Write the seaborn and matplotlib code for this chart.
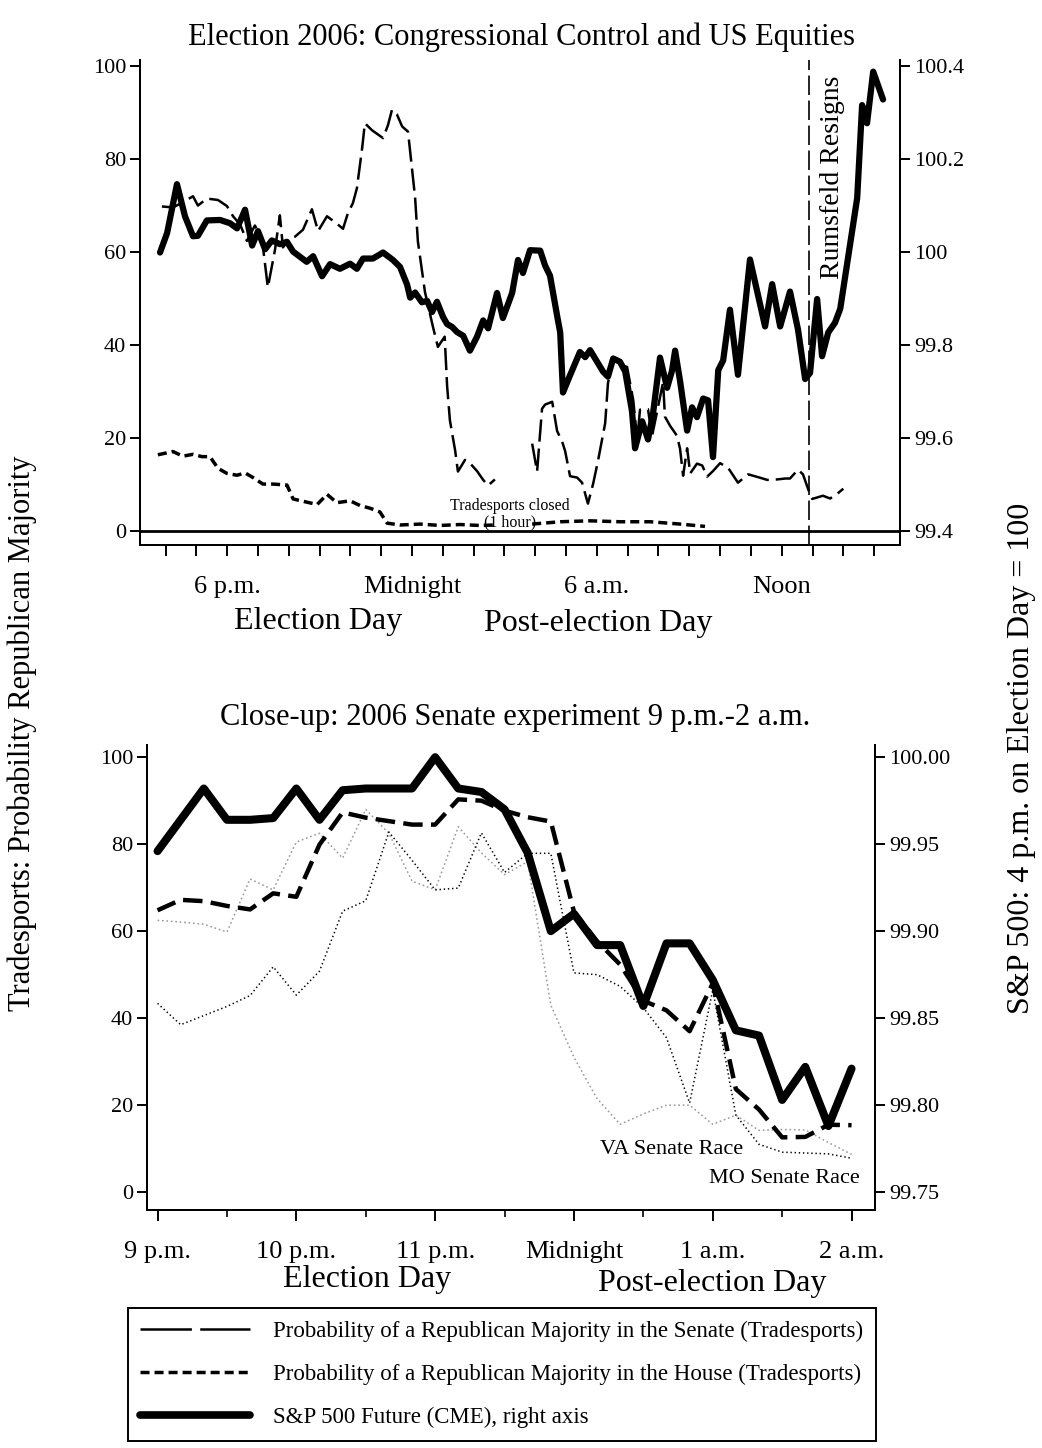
import numpy as np
import pandas as pd
import seaborn as sns
import matplotlib.pyplot as plt
from matplotlib.lines import Line2D

# ---------------- top panel: hours from midnight of election night ----------------
sp_hours = [-8.18, -7.95, -7.63, -7.37, -7.11, -6.95, -6.66, -6.23, -5.91, -5.68,
            -5.42, -5.19, -5.00, -4.77, -4.55, -4.29, -4.06, -3.86, -3.64, -3.42,
            -3.21, -2.92, -2.66, -2.34, -2.01, -1.79, -1.59, -1.27, -0.94, -0.62,
            -0.39, -0.16, -0.06, 0.10, 0.32, 0.49, 0.65, 0.81, 1.01, 1.14,
            1.30, 1.46, 1.66, 1.88, 2.11, 2.31, 2.47, 2.76, 2.95, 3.25,
            3.44, 3.60, 3.83, 4.16, 4.32, 4.48, 4.71, 4.81, 4.90, 5.13,
            5.45, 5.62, 5.78, 6.20, 6.36, 6.53, 6.75, 6.92, 7.14, 7.24,
            7.47, 7.66, 7.82, 8.05, 8.28, 8.44, 8.54, 8.70, 8.93, 9.09,
            9.25, 9.45, 9.61, 9.77, 9.94, 10.10, 10.32, 10.58, 10.97, 11.46,
            11.69, 11.95, 12.27, 12.53, 12.76, 12.92, 13.15, 13.31, 13.51, 13.73,
            13.90, 14.45, 14.61, 14.77, 14.97, 15.29]
sp_index = [99.999, 100.041, 100.146, 100.077, 100.034, 100.035, 100.068, 100.069, 100.062, 100.051,
            100.091, 100.014, 100.045, 100.006, 100.025, 100.017, 100.022, 100.001, 99.990, 99.979,
            99.991, 99.948, 99.974, 99.964, 99.975, 99.964, 99.986, 99.986, 99.999, 99.983,
            99.968, 99.930, 99.902, 99.913, 99.892, 99.895, 99.871, 99.893, 99.860, 99.845,
            99.839, 99.828, 99.820, 99.788, 99.818, 99.853, 99.836, 99.912, 99.858, 99.912,
            99.983, 99.955, 100.004, 100.003, 99.971, 99.949, 99.863, 99.827, 99.698, 99.735,
            99.785, 99.774, 99.789, 99.743, 99.732, 99.771, 99.764, 99.743, 99.658, 99.578,
            99.636, 99.597, 99.651, 99.773, 99.708, 99.745, 99.788, 99.723, 99.616, 99.666,
            99.645, 99.685, 99.681, 99.559, 99.746, 99.767, 99.876, 99.736, 99.984, 99.840,
            99.931, 99.840, 99.915, 99.833, 99.727, 99.740, 99.899, 99.776, 99.827, 99.848,
            99.878, 100.116, 100.316, 100.277, 100.388, 100.328]

# senate: part a before Tradesports closed, part b after it reopened
senate_hours_a = [-8.12, -7.76, -7.44, -7.11, -6.95, -6.66, -6.30, -6.01, -5.81, -5.58,
                  -5.36, -5.10, -4.87, -4.68, -4.45, -4.29, -4.19, -3.96, -3.80, -3.54,
                  -3.25, -3.05, -2.76, -2.44, -2.24, -2.08, -1.92, -1.79, -1.62, -1.53,
                  -1.30, -0.94, -0.78, -0.65, -0.49, -0.32, -0.13, 0.10, 0.19, 0.42,
                  0.68, 0.84, 1.06, 1.14, 1.23, 1.40, 1.49, 1.72, 1.88, 2.11,
                  2.31, 2.47, 2.69]
senate_prob_a = [69.8, 69.6, 70.7, 72.0, 70.0, 71.5, 71.2, 69.9, 67.7, 65.9,
                 62.4, 65.7, 62.8, 52.4, 60.4, 67.9, 61.0, 62.9, 63.3, 64.8,
                 69.2, 64.5, 67.7, 66.1, 65.0, 68.4, 70.5, 73.7, 82.3, 87.7,
                 86.2, 84.5, 87.3, 90.6, 89.6, 87.0, 85.9, 71.7, 62.3, 51.4,
                 43.9, 39.6, 41.8, 31.1, 23.8, 17.3, 12.8, 15.3, 14.6, 12.9,
                 11.0, 9.8, 11.1]
senate_hours_b = [3.90, 4.06, 4.22, 4.32, 4.55, 4.71, 4.87, 4.97, 5.13, 5.36,
                  5.52, 5.71, 5.88, 6.04, 6.27, 6.36, 6.53, 6.75, 6.98, 7.18,
                  7.31, 7.40, 7.66, 7.79, 8.15, 8.21, 8.38, 8.60, 8.70, 8.80,
                  8.93, 9.03, 9.25, 9.42, 9.58, 9.77, 10.00, 10.26, 10.58, 10.91,
                  11.23, 11.53, 11.85, 12.12, 12.27, 12.53, 12.69, 12.86, 12.99, 13.34,
                  13.57, 13.80, 14.00]
senate_prob_b = [18.8, 12.8, 26.3, 27.2, 27.8, 21.5, 19.3, 17.2, 11.8, 11.5,
                 10.4, 5.9, 10.2, 15.2, 23.2, 31.8, 37.4, 35.7, 35.3, 28.2,
                 19.6, 26.1, 26.2, 20.4, 32.0, 24.6, 22.6, 20.5, 17.7, 11.9,
                 17.8, 12.4, 14.5, 14.1, 11.7, 12.9, 14.6, 13.6, 10.4, 12.2,
                 11.6, 11.0, 11.1, 11.3, 11.3, 13.2, 12.2, 9.0, 6.9, 7.6,
                 7.0, 8.0, 9.1]

house_hours_a = [-8.25, -7.76, -7.44, -7.11, -6.82, -6.56, -6.30, -6.01, -5.68, -5.42,
                 -5.16, -4.84, -4.51, -4.06, -3.86, -3.47, -3.08, -2.76, -2.44, -2.01,
                 -1.69, -1.36, -1.04, -0.81, -0.39, 0.26, 0.91, 1.56, 2.21, 2.69]
house_prob_a = [16.4, 17.1, 16.1, 16.5, 16.0, 16.0, 13.5, 12.4, 12.0, 12.5,
                11.5, 10.1, 10.1, 9.9, 6.9, 6.3, 5.7, 7.9, 6.1, 6.5,
                5.5, 4.9, 4.1, 1.7, 1.3, 1.5, 1.2, 1.4, 1.2, 1.3]
house_hours_b = [3.90, 4.81, 5.78, 6.75, 7.73, 8.70, 9.51]
house_prob_b = [1.5, 2.0, 2.2, 2.0, 2.0, 1.5, 1.0]

rumsfeld_hour = 12.9
top_ticks = list(range(-8, 16))
top_tick_names = {-6: '6 p.m.', 0: 'Midnight', 6: '6 a.m.', 12: 'Noon'}
top_right_ticks = [99.4, 99.6, 99.8, 100.0, 100.2, 100.4]
top_right_names = ['99.4', '99.6', '99.8', '100', '100.2', '100.4']

# ---------------- bottom panel: 9 p.m. - 2 a.m. close-up ----------------
close_clock = ['21:00', '21:10', '21:20', '21:30', '21:40', '21:50', '22:00', '22:10',
               '22:20', '22:30', '22:40', '22:50', '23:00', '23:10', '23:20', '23:30',
               '23:40', '23:50', '00:00', '00:10', '00:20', '00:30', '00:40', '00:50',
               '01:00', '01:10', '01:20', '01:30', '01:40', '01:50', '02:00']
close_sp = [99.946, 99.964, 99.982, 99.964, 99.964, 99.965, 99.982, 99.964, 99.981, 99.982,
            99.982, 99.982, 100.000, 99.982, 99.980, 99.970, 99.945, 99.900, 99.910, 99.892,
            99.892, 99.857, 99.893, 99.893, 99.872, 99.843, 99.840, 99.803, 99.822, 99.788,
            99.821]
close_senate = [64.8, 67.2, 66.9, 65.8, 65.0, 68.7, 67.9, 79.9, 87.3, 86.1,
                85.3, 84.5, 84.5, 90.3, 90.0, 87.7, 86.2, 85.2, 64.5, 57.7,
                52.3, 44.0, 41.8, 37.0, 48.0, 23.7, 19.0, 12.6, 12.7, 15.5,
                15.4]
close_va = [62.5, 62.1, 61.6, 59.8, 72.0, 69.5, 80.5, 82.5, 76.8, 88.0,
            82.5, 71.5, 69.5, 84.0, 78.0, 73.0, 76.0, 43.0, 31.0, 21.5,
            15.6, 18.0, 20.0, 20.0, 15.6, 17.7, 14.2, 14.4, 14.3, 11.4,
            8.7]
close_mo = [43.4, 38.5, 40.6, 42.7, 45.2, 51.8, 45.3, 50.8, 64.6, 67.0,
            82.8, 76.3, 69.5, 69.9, 82.6, 73.5, 77.9, 77.9, 50.4, 50.0,
            47.3, 42.4, 35.5, 20.5, 46.5, 17.7, 11.0, 9.2, 9.0, 8.8,
            7.8]
close_ticks = [-3, -2, -1, 0, 1, 2]
close_tick_names = ['9 p.m.', '10 p.m.', '11 p.m.', 'Midnight', '1 a.m.', '2 a.m.']
close_right_ticks = [99.75, 99.80, 99.85, 99.90, 99.95, 100.00]

legend_names = ['Probability of a Republican Majority in the Senate (Tradesports)',
                'Probability of a Republican Majority in the House (Tradesports)',
                'S&P 500 Future (CME), right axis']


def clock_to_hours(c):
    hh, mm = c.split(':')
    h = int(hh) + int(mm) / 60
    return h - 24 if h >= 12 else h


sns.set_style('ticks')
plt.rcParams['font.family'] = ['Liberation Serif', 'DejaVu Serif']
plt.rcParams['lines.scale_dashes'] = False
plt.rcParams['axes.edgecolor'] = 'black'
plt.rcParams['xtick.color'] = 'black'
plt.rcParams['ytick.color'] = 'black'
plt.rcParams['text.color'] = 'black'
plt.rcParams['axes.linewidth'] = 1.4

W, H = 1042, 1448
fig = plt.figure(figsize=(W / 100, H / 100), dpi=100)


def box(x0, y0, x1, y1):
    return [x0 / W, 1 - y1 / H, (x1 - x0) / W, (y1 - y0) / H]


senate_df = pd.DataFrame({
    'h': senate_hours_a + senate_hours_b,
    'p': senate_prob_a + senate_prob_b,
    'part': [0] * len(senate_hours_a) + [1] * len(senate_hours_b)})
house_df = pd.DataFrame({
    'h': house_hours_a + house_hours_b,
    'p': house_prob_a + house_prob_b,
    'part': [0] * len(house_hours_a) + [1] * len(house_hours_b)})
sp_df = pd.DataFrame({'h': sp_hours, 'v': sp_index})

senate_ls = (0, (16, 5))
house_ls = (0, (6.5, 3.6))

# ---------------- top panel ----------------
ax1 = fig.add_axes(box(140, 60, 900, 545))
ax1r = ax1.twinx()
ylo, yhi = -3.0, 101.3
ax1.set_ylim(ylo, yhi)
ax1r.set_ylim(99.4 + ylo / 100, 99.4 + yhi / 100)
ax1.set_xlim(-8.83, 15.84)

sns.lineplot(data=senate_df, x='h', y='p', units='part', estimator=None, sort=False,
             ax=ax1, color='black', linewidth=1.8, linestyle=senate_ls)
sns.lineplot(data=house_df, x='h', y='p', units='part', estimator=None, sort=False,
             ax=ax1, color='black', linewidth=2.5, linestyle=house_ls)
ax1.axhline(0, color='black', linewidth=2.0)
ax1.axvline(rumsfeld_hour, color='black', linewidth=1.2, linestyle=(0, (14, 4)))
sns.lineplot(data=sp_df, x='h', y='v', estimator=None, sort=False, ax=ax1r,
             color='black', linewidth=4.5)

ax1.text(13.64, 76, 'Rumsfeld Resigns', rotation=90, ha='center', va='center', fontsize=20)
ax1.text(3.18, 3.6, 'Tradesports closed\n(1 hour)', ha='center', va='center',
         fontsize=11.5, linespacing=1.0)

ax1.set_xticks(top_ticks)
ax1.set_xticklabels([top_tick_names.get(t, '') for t in top_ticks])
ax1.set_yticks([0, 20, 40, 60, 80, 100])
ax1r.set_yticks(top_right_ticks)
ax1r.set_yticklabels(top_right_names)

# ---------------- bottom panel ----------------
close_h = [clock_to_hours(c) for c in close_clock]
close_df = pd.DataFrame({'h': close_h, 'senate': close_senate, 'va': close_va,
                         'mo': close_mo, 'sp': close_sp})

ax2 = fig.add_axes(box(147, 745, 875, 1210))
ax2r = ax2.twinx()
blo, bhi = -4.1, 102.8
ax2.set_ylim(blo, bhi)
ax2r.set_ylim(99.75 + blo / 400, 99.75 + bhi / 400)
ax2.set_xlim(-3.076, 2.169)

sns.lineplot(data=close_df, x='h', y='va', ax=ax2, color='#9a9a9a', linewidth=1.1,
             linestyle=(0, (1.2, 2.0)))
sns.lineplot(data=close_df, x='h', y='mo', ax=ax2, color='black', linewidth=1.1,
             linestyle=(0, (1.0, 2.0)))
sns.lineplot(data=close_df, x='h', y='senate', ax=ax2, color='black', linewidth=3.2,
             linestyle=(0, (14, 6)))
sns.lineplot(data=close_df, x='h', y='sp', ax=ax2r, color='black', linewidth=5.8)

ax2.text(1.218, 9.7, 'VA Senate Race', ha='right', va='center', fontsize=16)
ax2.text(2.06, 3.2, 'MO Senate Race', ha='right', va='center', fontsize=16)

ax2.set_xticks(close_ticks)
ax2.set_xticklabels(close_tick_names)
ax2.set_xticks([-2.5, -1.5, -0.5, 0.5, 1.5], minor=True)
ax2.set_yticks([0, 20, 40, 60, 80, 100])
ax2r.set_yticks(close_right_ticks)
ax2r.set_yticklabels(['%.2f' % v for v in close_right_ticks])

for a in (ax1, ax1r, ax2, ax2r):
    a.set_xlabel('')
    a.set_ylabel('')
    a.spines['top'].set_visible(False)
    a.tick_params(axis='y', direction='out', length=7, width=1.4, labelsize=16, pad=3)
    a.tick_params(axis='x', direction='out', length=8, width=1.4, labelsize=19, pad=14)
    a.tick_params(axis='x', which='minor', direction='out', length=5, width=1.2)
ax1r.spines['right'].set_visible(True)
ax2r.spines['right'].set_visible(True)

# ---------------- figure texts ----------------
fig.text(522 / W, 1 - 37 / H, 'Election 2006: Congressional Control and US Equities',
         ha='center', va='center', fontsize=22)
fig.text(515 / W, 1 - 718 / H, 'Close-up: 2006 Senate experiment 9 p.m.-2 a.m.',
         ha='center', va='center', fontsize=22)
fig.text(318 / W, 1 - 621 / H, 'Election Day', ha='center', va='center', fontsize=23)
fig.text(598 / W, 1 - 623 / H, 'Post-election Day', ha='center', va='center', fontsize=23)
fig.text(367 / W, 1 - 1280 / H, 'Election Day', ha='center', va='center', fontsize=23)
fig.text(712 / W, 1 - 1283 / H, 'Post-election Day', ha='center', va='center', fontsize=23)
fig.text(22 / W, 1 - 733 / H, 'Tradesports: Probability Republican Majority',
         rotation=90, ha='center', va='center', fontsize=22)
fig.text(1022 / W, 1 - 758 / H, 'S&P 500: 4 p.m. on Election Day = 100',
         rotation=90, ha='center', va='center', fontsize=23)

handles = [Line2D([], [], color='black', linewidth=1.8, linestyle=(0, (37, 6))),
           Line2D([], [], color='black', linewidth=2.5, linestyle=house_ls),
           Line2D([], [], color='black', linewidth=5.5)]
leg = fig.legend(handles, legend_names, loc='upper center',
                 bbox_to_anchor=(502 / W, 1 - 1297 / H), frameon=True, fancybox=False,
                 edgecolor='black', framealpha=1, fontsize=16.5, handlelength=4.8,
                 labelspacing=0.95, borderpad=0.55, handletextpad=1.0)
leg.get_frame().set_linewidth(1.4)

fig.savefig('out.png', dpi=100, facecolor='white')
